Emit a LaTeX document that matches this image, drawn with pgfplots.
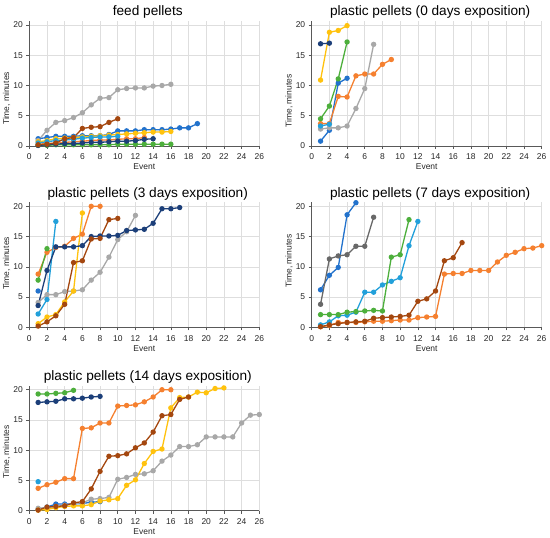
\documentclass[border=0pt]{standalone}
\usepackage{pgfplots}
\pgfplotsset{compat=1.18}
\usepackage{fontspec}
\setmainfont{Liberation Sans}
\definecolor{cA}{HTML}{2272CC}
\definecolor{cB}{HTML}{F5802F}
\definecolor{cC}{HTML}{A8A8A8}
\definecolor{cD}{HTML}{FFC20E}
\definecolor{cE}{HTML}{22A0DA}
\definecolor{cF}{HTML}{4DAF3C}
\definecolor{cG}{HTML}{1C3F79}
\definecolor{cH}{HTML}{A4470F}
\definecolor{cI}{HTML}{686868}
\pgfplotsset{
  panel/.style={
    scale only axis, width=230bp, height=125.2bp,
    xmin=0, xmax=26, ymin=0, ymax=20.7,
    axis lines=left,
    axis line style={-, draw=black!65, line width=0.8bp},
    xtick={0,2,...,26}, ytick={0,5,10,15,20},
    grid=major, major grid style={draw=black!13, line width=0.6bp},
    tick style={draw=black!65, line width=0.6bp}, tick align=outside, major tick length=3bp,
    ticklabel style={font=\fontsize{8.5}{10}\selectfont, text=black!85},
    xticklabel style={yshift=-1.5bp},
    /pgf/number format/assume math mode=true,
    xlabel=Event, ylabel={Time, minutes},
    label style={font=\fontsize{8.5}{10}\selectfont, text=black!85},
    xlabel style={at={(axis description cs:0.5,0)}, anchor=center, yshift=-21bp},
    title style={at={(axis description cs:0.515,1)}, anchor=base, yshift=-1bp, font=\fontsize{13.7}{16}\selectfont},
    every axis plot/.append style={line width=1.3bp, mark=*, mark size=2bp},
  },
  ylab/.style={ylabel style={at={(axis description cs:0,#1)}, anchor=center, yshift=22.6bp}},
}
\begin{document}
\begin{tikzpicture}
\path[use as bounding box] (0,0) rectangle (550bp,538bp);
% ---------- feed pellets ----------
\begin{axis}[panel, ylab=0.38, at={(29.3bp,392bp)}, anchor=south west, title={feed pellets}]
\addplot[cA] coordinates {(1,1.2)(2,1.4)(3,1.6)(4,1.6)(5,1.6)(6,1.7)(7,1.7)(8,1.7)(9,1.9)(10,2.5)(11,2.5)(12,2.5)(13,2.7)(14,2.7)(15,2.7)(16,2.8)(17,3.0)(18,3.0)(19,3.7)};
\addplot[cB] coordinates {(1,0.3)(2,0.4)(3,0.5)(4,0.6)(5,0.7)(6,0.8)(7,0.9)(8,1.0)(9,1.0)(10,1.1)(11,1.2)(12,1.2)(13,1.4)};
\addplot[cC] coordinates {(1,0.9)(2,2.6)(3,3.9)(4,4.2)(5,4.7)(6,5.5)(7,6.8)(8,7.9)(9,8.0)(10,9.3)(11,9.5)(12,9.6)(13,9.6)(14,9.9)(15,10.0)(16,10.2)};
\addplot[cD] coordinates {(1,0.7)(2,0.9)(3,1.2)(4,1.3)(5,1.4)(6,1.5)(7,1.6)(8,1.7)(9,1.8)(10,1.9)(11,2.0)(12,2.1)(13,2.2)(14,2.3)(15,2.3)(16,2.4)};
\addplot[cE] coordinates {(1,0.5)(2,0.7)(3,0.9)(4,1.0)(5,1.1)(6,1.3)(7,1.4)(8,1.5)(9,1.5)(10,1.6)};
\addplot[cF] coordinates {(1,0.1)(2,0.1)(3,0.2)(4,0.2)(5,0.2)(6,0.2)(7,0.2)(8,0.2)(9,0.2)(10,0.3)(11,0.3)(12,0.3)(13,0.3)(14,0.3)(15,0.3)(16,0.3)};
\addplot[cG] coordinates {(1,0.1)(2,0.2)(3,0.3)(4,0.4)(5,0.4)(6,0.5)(7,0.6)(8,0.6)(9,0.7)(10,0.8)(11,0.8)(12,0.9)(13,1.1)(14,1.2)};
\addplot[cH] coordinates {(1,0.2)(2,0.3)(3,0.5)(4,1.2)(5,1.4)(6,2.9)(7,3.1)(8,3.2)(9,3.9)(10,4.5)};
\end{axis}
% ---------- 0 days ----------
\begin{axis}[panel, ylab=0.36, at={(311.7bp,392bp)}, anchor=south west, title={plastic pellets (0 days exposition)}]
\addplot[cA] coordinates {(1,0.8)(2,2.6)(3,10.4)(4,11.2)};
\addplot[cB] coordinates {(1,3.7)(2,3.7)(3,8.2)(4,8.1)(5,11.6)(6,11.9)(7,11.9)(8,13.5)(9,14.3)};
\addplot[cC] coordinates {(1,2.8)(2,3.0)(3,3.0)(4,3.3)(5,6.2)(6,9.5)(7,16.8)};
\addplot[cD] coordinates {(1,10.9)(2,18.8)(3,19.1)(4,19.9)};
\addplot[cE] coordinates {(1,3.3)(2,3.6)};
\addplot[cF] coordinates {(1,4.5)(2,6.6)(3,11.1)(4,17.2)};
\addplot[cG] coordinates {(1,16.9)(2,17.0)};
\end{axis}
% ---------- 3 days ----------
\begin{axis}[panel, ylab=0.51, at={(29.3bp,210.7bp)}, anchor=south west, title={plastic pellets (3 days exposition)}]
\addplot[cA] coordinates {(1,6.0)};
\addplot[cB] coordinates {(1,8.8)(2,12.4)(3,13.2)(4,13.4)(5,14.7)(6,15.4)(7,20.0)(8,20.0)};
\addplot[cC] coordinates {(1,4.1)(2,5.4)(3,5.4)(4,5.9)(5,6.0)(6,6.2)(7,7.8)(8,9.1)(9,11.6)(10,14.5)(11,15.8)(12,18.5)};
\addplot[cD] coordinates {(1,0.6)(2,1.7)(3,2.1)(4,4.2)(5,6.0)(6,18.9)};
\addplot[cE] coordinates {(1,2.2)(2,4.6)(3,17.5)};
\addplot[cF] coordinates {(1,7.8)(2,13.0)};
\addplot[cG] coordinates {(1,3.6)(2,9.4)(3,13.3)(4,13.3)(5,13.3)(6,13.5)(7,15.0)(8,15.1)(9,15.1)(10,15.2)(11,16.0)(12,16.1)(13,16.2)(14,17.2)(15,19.6)(16,19.6)(17,19.8)};
\addplot[cH] coordinates {(1,0.2)(2,0.9)(3,1.9)(4,3.8)(5,10.7)(6,11.0)(7,14.6)(8,14.7)(9,17.8)(10,18.0)};
\end{axis}
% ---------- 7 days ----------
\begin{axis}[panel, ylab=0.53, at={(311.7bp,210.7bp)}, anchor=south west, title={plastic pellets (7 days exposition)}]
\addplot[cA] coordinates {(1,6.2)(2,8.6)(3,9.9)(4,18.6)(5,20.6)};
\addplot[cB] coordinates {(1,0.1)(2,0.3)(3,0.8)(4,0.8)(5,0.8)(6,0.9)(7,1.0)(8,1.0)(9,1.1)(10,1.2)(11,1.2)(12,1.6)(13,1.7)(14,1.8)(15,8.8)(16,8.9)(17,8.9)(18,9.4)(19,9.4)(20,9.4)(21,10.8)(22,11.9)(23,12.4)(24,13.0)(25,13.1)(26,13.5)};
\addplot[cE] coordinates {(1,0.4)(2,0.9)(3,1.9)(4,2.0)(5,2.5)(6,5.8)(7,5.8)(8,7.0)(9,7.6)(10,8.2)(11,13.5)(12,17.5)};
\addplot[cF] coordinates {(1,2.1)(2,2.1)(3,2.1)(4,2.5)(5,2.6)(6,2.7)(7,2.8)(8,2.7)(9,11.6)(10,12.0)(11,17.8)};
\addplot[cH] coordinates {(1,0.1)(2,0.4)(3,0.6)(4,0.8)(5,0.9)(6,1.0)(7,1.5)(8,1.6)(9,1.7)(10,1.8)(11,2.0)(12,4.3)(13,4.7)(14,6.0)(15,11.0)(16,11.5)(17,14.0)};
\addplot[cI] coordinates {(1,3.8)(2,11.3)(3,11.8)(4,12.0)(5,13.4)(6,13.4)(7,18.2)};
\end{axis}
% ---------- 14 days ----------
\begin{axis}[panel, ylab=0.47, at={(29.3bp,27.3bp)}, anchor=south west, title={plastic pellets (14 days exposition)}]
\addplot[cA] coordinates {(1,0.2)(2,0.6)(3,1.1)(4,1.1)(5,1.1)(6,1.2)(7,1.4)(8,1.5)};
\addplot[cB] coordinates {(1,3.7)(2,4.3)(3,4.7)(4,5.3)(5,5.3)(6,13.6)(7,13.7)(8,14.5)(9,14.5)(10,17.3)(11,17.4)(12,17.5)(13,18.0)(14,18.8)(15,20.0)(16,20.0)};
\addplot[cC] coordinates {(1,0.4)(2,0.5)(3,0.7)(4,0.9)(5,1.2)(6,1.3)(7,1.9)(8,2.0)(9,2.2)(10,5.2)(11,5.5)(12,6.0)(13,6.1)(14,6.6)(15,8.2)(16,9.2)(17,10.6)(18,10.6)(19,10.9)(20,12.2)(21,12.2)(22,12.2)(23,12.2)(24,14.5)(25,15.8)(26,15.9)};
\addplot[cD] coordinates {(1,0.1)(2,0.2)(3,0.5)(4,0.7)(5,0.8)(6,0.8)(7,1.0)(8,1.6)(9,1.8)(10,2.0)(11,4.2)(12,5.1)(13,7.8)(14,9.8)(15,10.2)(16,17.0)(17,18.7)(18,18.8)(19,19.6)(20,19.5)(21,20.2)(22,20.3)};
\addplot[cE] coordinates {(1,4.8)};
\addplot[cF] coordinates {(1,19.3)(2,19.3)(3,19.4)(4,19.5)(5,19.9)};
\addplot[cG] coordinates {(1,17.9)(2,18.0)(3,18.1)(4,18.5)(5,18.5)(6,18.6)(7,18.8)(8,18.9)};
\addplot[cH] coordinates {(1,0.1)(2,0.6)(3,0.7)(4,0.8)(5,1.3)(6,1.5)(7,3.6)(8,6.5)(9,9.0)(10,9.1)(11,9.4)(12,10.4)(13,11.2)(14,13.0)(15,15.7)(16,15.9)(17,18.4)(18,18.8)};
\end{axis}
\end{tikzpicture}
\end{document}
